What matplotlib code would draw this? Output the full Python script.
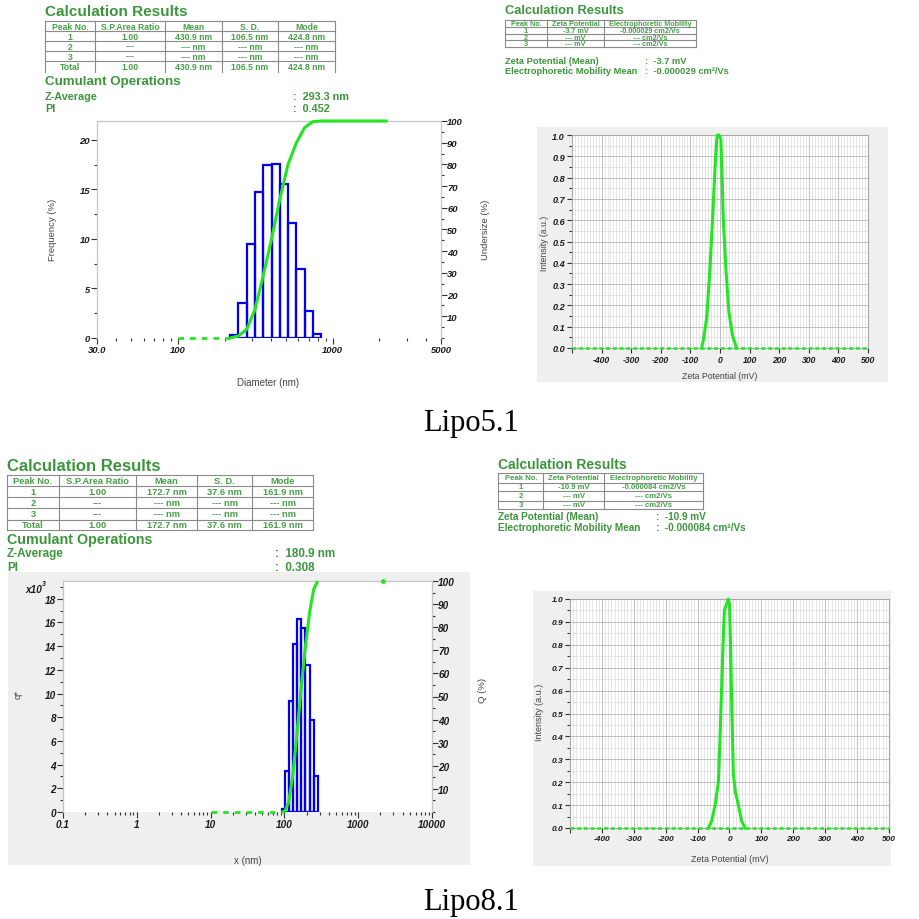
import matplotlib
matplotlib.use('Agg')
import matplotlib.pyplot as plt
from matplotlib.patches import Rectangle
from matplotlib.ticker import NullFormatter

# ---------------- DATA ----------------
# Lipo5.1 - size
size1_header = ['Peak No.', 'S.P.Area Ratio', 'Mean', 'S. D.', 'Mode']
size1_rows = [['1', '1.00', '430.9 nm', '106.5 nm', '424.8 nm'],
              ['2', '---', '--- nm', '--- nm', '--- nm'],
              ['3', '---', '--- nm', '--- nm', '--- nm'],
              ['Total', '1.00', '430.9 nm', '106.5 nm', '424.8 nm']]
size1_zavg = '293.3 nm'
size1_pi = '0.452'
size1_edges = [217, 245, 278, 314, 355, 402, 455, 514, 582, 658, 744, 841]
size1_freq = [0.27, 3.5, 9.5, 14.7, 17.5, 17.6, 15.5, 11.6, 7.0, 2.7, 0.4]
size1_cum_x = [217, 245, 278, 314, 355, 402, 455, 514, 582, 658, 744, 841, 2265]
size1_cum_y = [0, 0.9, 4, 13, 28.6, 45.5, 64, 80, 90, 97, 99.7, 100, 100]
size1_zero_x = [100, 217]
size1_xticks = [30, 100, 1000, 5000]
size1_xlabels = ['30.0', '100', '1000', '5000']

# Lipo5.1 - zeta
zeta1_header = ['Peak No.', 'Zeta Potential', 'Electrophoretic Mobility']
zeta1_rows = [['1', '-3.7 mV', '-0.000029 cm2/Vs'],
              ['2', '--- mV', '--- cm2/Vs'],
              ['3', '--- mV', '--- cm2/Vs']]
zeta1_mean = '-3.7 mV'
zeta1_mob = '-0.000029 cm\u00b2/Vs'
zeta1_x = [-62, -56, -45, -34, -25, -17, -11, -8, -4, 3, 6, 11, 20, 30, 42, 56]
zeta1_y = [0, 0.04, 0.14, 0.37, 0.61, 0.84, 0.98, 1.0, 1.0, 0.98, 0.84, 0.61, 0.37, 0.17, 0.06, 0]

# Lipo8.1 - size
size2_header = ['Peak No.', 'S.P.Area Ratio', 'Mean', 'S. D.', 'Mode']
size2_rows = [['1', '1.00', '172.7 nm', '37.6 nm', '161.9 nm'],
              ['2', '---', '--- nm', '--- nm', '--- nm'],
              ['3', '---', '--- nm', '--- nm', '--- nm'],
              ['Total', '1.00', '172.7 nm', '37.6 nm', '161.9 nm']]
size2_zavg = '180.9 nm'
size2_pi = '0.308'
size2_edges = [92, 102, 114.5, 130, 147, 168, 193, 221, 250, 283]
size2_q = [0.28, 3.46, 9.4, 14.15, 16.3, 15.5, 12.4, 7.8, 3.0]
size2_cum_x = [92, 102, 114.5, 130, 147, 168, 193, 221, 250, 283]
size2_cum_y = [0, 0.3, 4.5, 15.9, 33, 53, 72, 87, 96.5, 100]
size2_zero_x = [10, 92]
size2_dot = (2200, 100)
size2_xticks = [0.1, 1, 10, 100, 1000, 10000]
size2_xlabels = ['0.1', '1', '10', '100', '1000', '10000']

# Lipo8.1 - zeta
zeta2_header = ['Peak No.', 'Zeta Potential', 'Electrophoretic Mobility']
zeta2_rows = [['1', '-10.9 mV', '-0.000084 cm2/Vs'],
              ['2', '--- mV', '--- cm2/Vs'],
              ['3', '--- mV', '--- cm2/Vs']]
zeta2_mean = '-10.9 mV'
zeta2_mob = '-0.000084 cm\u00b2/Vs'
zeta2_x = [-66, -56, -45, -35, -30, -25, -19, -16, -11, -4, 0, 4, 8, 12, 18, 28, 38, 49]
zeta2_y = [0, 0.03, 0.1, 0.2, 0.38, 0.6, 0.85, 0.95, 0.97, 1.0, 0.98, 0.75, 0.48, 0.24, 0.16, 0.1, 0.03, 0]

zeta_xticks = [-500, -400, -300, -200, -100, 0, 100, 200, 300, 400, 500]
zeta_yticks = [0.0, 0.1, 0.2, 0.3, 0.4, 0.5, 0.6, 0.7, 0.8, 0.9, 1.0]

captions = ['Lipo5.1', 'Lipo8.1']

# ---------------- STYLE ----------------
W = H = 920
TITLE_C = '#3b963b'
TXT_C = '#45a045'
CURVE_C = '#22e622'
BAR_C = '#0000ee'
LINE_C = '#8a8a8a'
PANEL_C = '#efefef'
SANS = 'Liberation Sans'
TICKFONT = dict(fontfamily=SANS, fontweight='bold', fontstyle='italic', color='#1a1a1a')

plt.rcParams['font.family'] = [SANS, 'DejaVu Sans']

fig = plt.figure(figsize=(9.2, 9.2), dpi=100)
ov = fig.add_axes([0, 0, 1, 1], zorder=0)
ov.set_xlim(0, W)
ov.set_ylim(H, 0)
ov.axis('off')


def T(x, y, s, size, color=TXT_C, weight='bold', ha='left', va='center',
      family=SANS, style='normal', rot=0):
    ov.text(x, y, s, fontsize=size, color=color, fontweight=weight, ha=ha,
            va=va, family=family, fontstyle=style, rotation=rot)


def table(cols, rows_y, header, body, fs, bottom=True):
    for i, y in enumerate(rows_y):
        if i == len(rows_y) - 1 and not bottom:
            continue
        ov.plot([cols[0], cols[-1]], [y, y], color=LINE_C, lw=0.8)
    for x in cols:
        ov.plot([x, x], [rows_y[0], rows_y[-1]], color=LINE_C, lw=0.8)
    for r, row in enumerate([header] + body):
        yc = (rows_y[r] + rows_y[r + 1]) / 2
        for c, s in enumerate(row):
            xc = (cols[c] + cols[c + 1]) / 2
            T(xc, yc, s, fs, ha='center')


def panel(x0, y0, x1, y1):
    ov.add_patch(Rectangle((x0, y0), x1 - x0, y1 - y0, fc=PANEL_C, ec='none'))


def px_axes(l, t, r, b):
    return fig.add_axes([l / W, 1 - b / H, (r - l) / W, (b - t) / H], zorder=2)


def style_spines(ax, color='#c4c4c4', bottom=False):
    for k, sp in ax.spines.items():
        sp.set_color(color)
        sp.set_linewidth(0.8)
    ax.spines['bottom'].set_visible(bottom)


def size_plot(rect, edges, heights, cum_x, cum_y, zero_x, xlim, ylim,
              xticks, xlabels, xminor, yticks, yminor, fs):
    ax = px_axes(*rect)
    ax.set_facecolor('white')
    widths = [edges[i + 1] - edges[i] for i in range(len(heights))]
    ax.bar(edges[:-1], heights, width=widths, align='edge', fill=False,
           edgecolor=BAR_C, linewidth=1.6, zorder=3)
    ax.set_xscale('log')
    ax.set_xlim(*xlim)
    ax.set_ylim(*ylim)
    ax.set_xticks(xticks, xlabels, fontsize=fs, **TICKFONT)
    ax.set_xticks(xminor, minor=True)
    ax.xaxis.set_minor_formatter(NullFormatter())
    ax.set_yticks(yticks, [str(v) for v in yticks], fontsize=fs, **TICKFONT)
    ax.set_yticks(yminor, minor=True)
    ax.tick_params(axis='both', which='major', length=4, width=0.8,
                   color='#333333', pad=1)
    ax.tick_params(axis='both', which='minor', length=2.5, width=0.8,
                   color='#333333')
    style_spines(ax)
    ax2 = ax.twinx()
    ax2.set_zorder(3)
    ax2.patch.set_visible(False)
    ax2.set_ylim(0, 100)
    rt = list(range(10, 101, 10))
    ax2.set_yticks(rt, [str(v) for v in rt], fontsize=fs, **TICKFONT)
    ax2.set_yticks(list(range(0, 101, 5)), minor=True)
    ax2.tick_params(axis='y', which='major', length=4, width=0.8,
                    color='#333333', pad=0.5)
    ax2.tick_params(axis='y', which='minor', length=2.5, width=0.8,
                    color='#333333')
    style_spines(ax2)
    ax2.plot(zero_x, [0, 0], color=CURVE_C, lw=2, dashes=(2, 2.2),
             clip_on=False, zorder=4)
    ax2.plot(cum_x, cum_y, color=CURVE_C, lw=2.2, clip_on=False, zorder=5,
             solid_capstyle='butt')
    return ax, ax2


def zeta_plot(rect, x, y, fsx, fsy):
    ax = px_axes(*rect)
    ax.set_facecolor('white')
    ax.set_xlim(-500, 500)
    ax.set_ylim(0, 1.0)
    ax.set_xticks(zeta_xticks, ['' if v == -500 else str(v) for v in zeta_xticks],
                  fontsize=fsx, **TICKFONT)
    ax.set_xticks(list(range(-500, 501, 10)), minor=True)
    ax.set_yticks(zeta_yticks, ['%.1f' % v for v in zeta_yticks], fontsize=fsy,
                  **TICKFONT)
    ax.set_yticks([v / 100 for v in range(0, 101, 5)], minor=True)
    ax.grid(which='minor', color='#dcdcdc', lw=0.5)
    ax.grid(which='major', color='#b5b5b5', lw=0.6)
    ax.set_axisbelow(True)
    ax.tick_params(axis='both', which='major', length=3.5, width=0.8,
                   color='#333333', pad=1.5)
    ax.tick_params(axis='y', which='minor', length=2, width=0.8, color='#333333')
    ax.tick_params(axis='x', which='minor', length=0)
    style_spines(ax, color='#a8a8a8', bottom=True)
    ax.plot([-500, 500], [0, 0], color=CURVE_C, lw=1.8, dashes=(1.5, 1.2),
            clip_on=False, zorder=4)
    ax.plot(x, y, color=CURVE_C, lw=2.2, clip_on=False, zorder=5)
    return ax


# ---------------- PANEL 1 : Lipo5.1 size ----------------
T(45, 12.5, 'Calculation Results', 11, color=TITLE_C)
table([45, 95, 165, 222, 278, 335], [22, 32, 42, 52, 62, 72.5],
      size1_header, size1_rows, 6.2, bottom=False)
T(45, 82, 'Cumulant Operations', 9.6, color=TITLE_C)
T(45, 96.5, 'Z-Average', 7.8, color=TITLE_C)
T(45, 108.5, 'PI', 7.8, color=TITLE_C)
T(293, 96.5, ':  ' + size1_zavg, 7.8, color=TITLE_C)
T(293, 108.5, ':  ' + size1_pi, 7.8, color=TITLE_C)

size_plot((97, 122, 441, 339), size1_edges, size1_freq, size1_cum_x,
          size1_cum_y, size1_zero_x, (30, 5000), (0, 21.9),
          size1_xticks, size1_xlabels,
          [40, 50, 60, 70, 80, 90, 200, 300, 400, 500, 600, 700, 800, 900,
           2000, 3000, 4000],
          [0, 5, 10, 15, 20], [2.5, 7.5, 12.5, 17.5], 6.8)
T(53, 230, 'Frequency (%)', 6.8, color='#444444', weight='normal', ha='center', rot=90)
T(486, 230, 'Undersize (%)', 6.8, color='#444444', weight='normal', ha='center', rot=90)
T(268, 383, 'Diameter (nm)', 7, color='#444444', weight='normal', ha='center')

# ---------------- PANEL 2 : Lipo5.1 zeta ----------------
T(505, 11.5, 'Calculation Results', 9.3, color=TITLE_C)
table([505, 547, 604, 696], [20.7, 28, 34.7, 41.3, 48],
      zeta1_header, zeta1_rows, 5.2)
T(505, 61, 'Zeta Potential (Mean)', 6.7, color=TITLE_C)
T(505, 71, 'Electrophoretic Mobility Mean', 6.7, color=TITLE_C)
T(645, 61, ':  ' + zeta1_mean, 6.7, color=TITLE_C)
T(645, 71, ':  ' + zeta1_mob, 6.7, color=TITLE_C)
panel(537, 128, 888, 383)
zeta_plot((572, 136, 868, 349), zeta1_x, zeta1_y, 6.2, 6.6)
T(545, 243, 'Intensity (a.u.)', 6.3, color='#444444', weight='normal', ha='center', rot=90)
T(720, 377, 'Zeta Potential (mV)', 6.3, color='#444444', weight='normal', ha='center')

# ---------------- PANEL 3 : Lipo8.1 size ----------------
T(7, 467, 'Calculation Results', 12, color=TITLE_C)
table([6.7, 59, 136, 197.3, 252.3, 313.3], [475.7, 487.3, 498.3, 509.3, 520.7, 531],
      size2_header, size2_rows, 6.7)
T(7, 540, 'Cumulant Operations', 10.3, color=TITLE_C)
T(7, 554, 'Z-Average', 8.4, color=TITLE_C)
T(7, 568, 'PI', 8.4, color=TITLE_C)
T(275, 554, ':  ' + size2_zavg, 8.4, color=TITLE_C)
T(275, 568, ':  ' + size2_pi, 8.4, color=TITLE_C)
panel(8, 573, 470, 866)
ax3, ax3r = size_plot((63, 582, 432, 813), size2_edges, size2_q, size2_cum_x,
                      size2_cum_y, size2_zero_x, (0.1, 10000), (0, 19.5),
                      size2_xticks, size2_xlabels,
                      [m * 10.0 ** e for e in range(-1, 4) for m in range(2, 10)],
                      list(range(0, 19, 2)), list(range(1, 20, 2)), 7.2)
ax3r.plot([size2_dot[0]], [size2_dot[1]], 'o', color=CURVE_C, ms=2.5,
          clip_on=False, zorder=6)
T(25, 590, 'x10', 7.2, color='#1a1a1a', style='italic')
T(42, 585, '3', 5, color='#1a1a1a', style='italic')
T(18, 695, 'q*', 6.8, color='#444444', weight='normal', ha='center', rot=90)
T(483, 690, 'Q (%)', 6.8, color='#444444', weight='normal', ha='center', rot=90)
T(248, 861, 'x (nm)', 7, color='#444444', weight='normal', ha='center')

# ---------------- PANEL 4 : Lipo8.1 zeta ----------------
T(498, 465, 'Calculation Results', 10, color=TITLE_C)
table([498.3, 543.3, 604.3, 703.3], [474, 483.7, 492.3, 501.7, 510],
      zeta2_header, zeta2_rows, 5.6)
T(498, 517, 'Zeta Potential (Mean)', 7.2, color=TITLE_C)
T(498, 528, 'Electrophoretic Mobility Mean', 7.2, color=TITLE_C)
T(656, 517, ':  ' + zeta2_mean, 7.2, color=TITLE_C)
T(656, 528, ':  ' + zeta2_mob, 7.2, color=TITLE_C)
panel(533, 592, 891, 867)
zeta_plot((570, 600, 889, 829), zeta2_x, zeta2_y, 6, 6)
T(540, 712, 'Intensity (a.u.)', 6.5, color='#444444', weight='normal', ha='center', rot=90)
T(730, 860, 'Zeta Potential (mV)', 6.5, color='#444444', weight='normal', ha='center')

# ---------------- captions ----------------
T(471, 424, captions[0], 22, color='black', weight='normal', ha='center',
  family='Liberation Serif')
T(471, 903, captions[1], 22, color='black', weight='normal', ha='center',
  family='Liberation Serif')

fig.savefig('out.png', dpi=100, facecolor='white')
